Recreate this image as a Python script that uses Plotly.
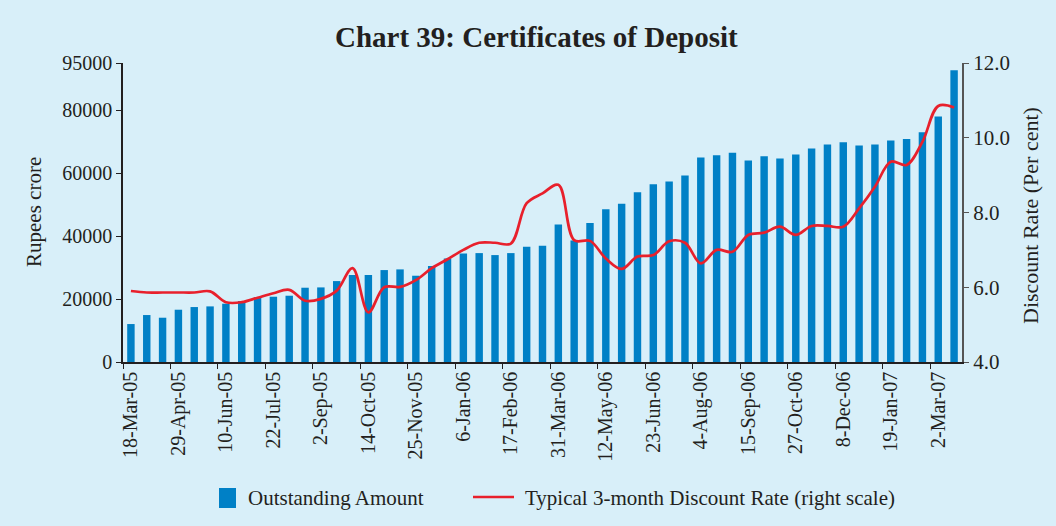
import plotly.graph_objects as go

dates = ["18-Mar-05", "1-Apr-05", "15-Apr-05", "29-Apr-05", "13-May-05", "27-May-05",
         "10-Jun-05", "24-Jun-05", "8-Jul-05", "22-Jul-05", "5-Aug-05", "19-Aug-05",
         "2-Sep-05", "16-Sep-05", "30-Sep-05", "14-Oct-05", "28-Oct-05", "11-Nov-05",
         "25-Nov-05", "9-Dec-05", "23-Dec-05", "6-Jan-06", "20-Jan-06", "3-Feb-06",
         "17-Feb-06", "3-Mar-06", "17-Mar-06", "31-Mar-06", "14-Apr-06", "28-Apr-06",
         "12-May-06", "26-May-06", "9-Jun-06", "23-Jun-06", "7-Jul-06", "21-Jul-06",
         "4-Aug-06", "18-Aug-06", "1-Sep-06", "15-Sep-06", "29-Sep-06", "13-Oct-06",
         "27-Oct-06", "10-Nov-06", "24-Nov-06", "8-Dec-06", "22-Dec-06", "5-Jan-07",
         "19-Jan-07", "2-Feb-07", "16-Feb-07", "2-Mar-07", "16-Mar-07"]

outstanding = [12060, 14920, 14070, 16610, 17460, 17670, 18520, 19370, 20530, 20740,
               21060, 23600, 23700, 25710, 27620, 27620, 29210, 29420, 27410, 30480,
               32910, 34500, 34600, 33970, 34600, 36610, 36930, 43700, 38620, 44130,
               48570, 50270, 53970, 56510, 57350, 59260, 64970, 65710, 66460, 64020,
               65400, 64660, 65930, 67830, 69100, 69840, 68780, 69100, 70370, 70850,
               73020, 77990, 92700]

discount_rate = [5.90, 5.86, 5.86, 5.86, 5.86, 5.89, 5.60, 5.60, 5.72, 5.84,
                 5.93, 5.64, 5.69, 5.91, 6.51, 5.33, 6.00, 6.01, 6.19, 6.51,
                 6.75, 7.00, 7.19, 7.19, 7.17, 8.25, 8.51, 8.74, 7.26, 7.24,
                 6.77, 6.49, 6.82, 6.86, 7.23, 7.19, 6.64, 7.00, 6.95, 7.40,
                 7.46, 7.62, 7.40, 7.64, 7.64, 7.62, 8.11, 8.69, 9.36, 9.27,
                 9.89, 10.85, 10.81]

left_ticks = [0, 20000, 40000, 60000, 80000, 95000]
right_ticks = [4.0, 6.0, 8.0, 10.0, 12.0]

BAR_NAME = "Outstanding Amount"
LINE_NAME = "Typical 3-month Discount Rate (right scale)"

BG = "#D8EFF9"
FONT = "Liberation Serif"
TXT = "#231F20"
BAR_C = "#0080C6"
LINE_C = "#E8202C"

W, H = 1056, 526
ML, MR, MT, MB = 123, 94, 63, 164
PW, PH = W - ML - MR, H - MT - MB


def px(x):
    return (x - ML) / PW


def py(y):
    return (H - MB - y) / PH


fig = go.Figure()
fig.add_trace(go.Bar(
    x=dates, y=outstanding, name=BAR_NAME,
    marker=dict(color=BAR_C, line=dict(width=0)), width=0.47,
))
fig.add_trace(go.Scatter(
    x=dates, y=discount_rate, name=LINE_NAME,
    mode="lines", line=dict(color=LINE_C, width=2.7, shape="spline", smoothing=1.0),
    yaxis="y2",
))

fig.update_layout(
    width=W, height=H,
    paper_bgcolor=BG, plot_bgcolor=BG,
    margin=dict(l=ML, r=MR, t=MT, b=MB, autoexpand=False),
    font=dict(family=FONT, size=20, color=TXT),
    showlegend=False,
    xaxis=dict(type="category", range=[-0.5, 52.5], tickmode="linear", tick0=0, dtick=3,
               tickson="boundaries", ticks="outside", ticklen=5, tickcolor=TXT,
               tickangle=-90, showline=True, linecolor=TXT, linewidth=1.5,
               showgrid=False, zeroline=False, tickfont=dict(size=20), automargin=False),
    yaxis=dict(range=[0, 95000], tickmode="array", tickvals=left_ticks,
               ticktext=[str(v) for v in left_ticks], tickfont=dict(size=20),
               ticks="outside", ticklen=5, tickcolor=TXT, showline=True,
               linecolor=TXT, linewidth=1.5, showgrid=False, zeroline=False, automargin=False),
    yaxis2=dict(range=[4, 12], overlaying="y", side="right", tickmode="array",
                tickvals=right_ticks, ticktext=[f"{v:.1f}" for v in right_ticks],
                tickfont=dict(size=21),
                ticks="outside", ticklen=5, tickcolor="#555555", showline=True,
                linecolor="#555555", linewidth=2, showgrid=False, zeroline=False,
                automargin=False),
)

# Title and axis titles
fig.add_annotation(text="<b>Chart 39: Certificates of Deposit</b>", xref="paper", yref="paper",
                   x=px(536), y=py(37), xanchor="center", yanchor="middle",
                   showarrow=False, font=dict(size=29, family=FONT, color=TXT))
fig.add_annotation(text="Rupees crore", xref="paper", yref="paper", x=px(34),
                   y=py(212), xanchor="center", yanchor="middle", textangle=-90,
                   showarrow=False, font=dict(size=21, family=FONT, color=TXT))
fig.add_annotation(text="Discount Rate (Per cent)", xref="paper", yref="paper", x=px(1030),
                   y=py(216), xanchor="center", yanchor="middle", textangle=-90,
                   showarrow=False, font=dict(size=22, family=FONT, color=TXT))

# Legend (drawn below the plot)
fig.add_shape(type="rect", xref="paper", yref="paper", x0=px(219), x1=px(236),
              y0=py(508), y1=py(488), fillcolor=BAR_C, line=dict(width=0))
fig.add_annotation(text=BAR_NAME, xref="paper", yref="paper", x=px(246), y=py(498),
                   xanchor="left", yanchor="middle", showarrow=False,
                   font=dict(size=21, family=FONT, color=TXT))
fig.add_shape(type="line", xref="paper", yref="paper", x0=px(473), x1=px(514),
              y0=py(497), y1=py(497), line=dict(color=LINE_C, width=2.7))
fig.add_annotation(text=LINE_NAME, xref="paper", yref="paper", x=px(523), y=py(498),
                   xanchor="left", yanchor="middle", showarrow=False,
                   font=dict(size=21, family=FONT, color=TXT))

fig.write_html("out.html", config={"displayModeBar": False},
               post_script="document.body.style.margin='0px';")
